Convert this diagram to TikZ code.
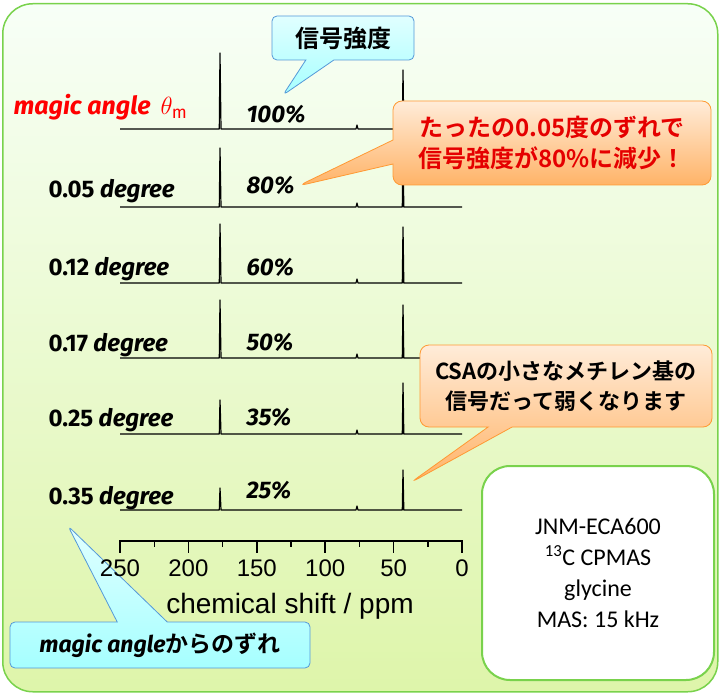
\documentclass[tikz,border=0pt]{standalone}
\usepackage{fontspec}
\setmainfont{Fira Sans}
\newfontfamily\jp{Noto Sans CJK JP Bold}
\newfontfamily\lab{Fira Sans Bold Italic}
\newfontfamily\labb{Fira Sans Bold}
\newfontfamily\info{Carlito}
\newfontfamily\arial{Liberation Sans}
\usetikzlibrary{shapes.callouts}
\tikzset{
  bluecall/.style={rectangle callout,callout pointer width=28pt,rounded corners=5pt,draw=cyan!60!blue!70,line width=0.8pt,top color=cyan!12,bottom color=cyan!35,font=\jp\fontsize{24}{28}\selectfont,inner sep=0pt},
  orcall/.style={rectangle callout,callout pointer width=24pt,rounded corners=9pt,draw=orange!80,line width=0.8pt,top color=orange!15,bottom color=orange!60,text=red!90!black,font=\jp\fontsize{24}{31}\selectfont,align=center,inner sep=0pt},
  deg/.style={anchor=base west,font=\lab\fontsize{24}{24}\selectfont},
  pct/.style={anchor=base west,font=\lab\fontsize{24}{24}\selectfont},
  spec/.style={line width=1.2pt,line join=round}
}
\newcommand\specrow[3]{%
 \draw[spec] (120,#1) -- (219.3,#1) -- (220,#2) -- (221,#1) -- (356,#1) -- (357,#1-4) -- (358,#1) -- (402.3,#1) -- (403,#3) -- (403.8,#1) -- (462,#1);}
\newcommand\dg[1]{{\labb #1} degree}
\begin{document}
\begin{tikzpicture}[x=1pt,y=-1pt]
\useasboundingbox (0,0) rectangle (720,695);
\node[draw=green!50!olive!70,line width=1.5pt,rounded corners=30pt,top color=green!3!white,bottom color={rgb,255:red,222;green,245;blue,170},minimum width=715pt,minimum height=688pt,anchor=north west] (bg) at (2,3) {};
\node[bluecall,callout pointer width=50pt,minimum width=300pt,minimum height=46pt,callout absolute pointer={(68,526)},font=\jp\fontsize{23}{24}\selectfont] (c4) at (160,645) {\lab magic angle\jp からのずれ};
\specrow{129}{53}{70}
\specrow{207}{148}{150}
\specrow{283}{224}{227}
\specrow{358}{300}{305}
\specrow{434}{400}{383}
\specrow{510}{488}{470}
\node[anchor=base west,text=red,font=\lab\fontsize{25}{25}\selectfont] (ma) at (10,115) {magic angle \,$\theta_{\mathrm{m}}$};
\node[deg] (d1) at (45,198) {\dg{0.05}};
\node[deg] (d2) at (45,275) {\dg{0.12}};
\node[deg] (d3) at (45,351) {\dg{0.17}};
\node[deg] (d4) at (45,426) {\dg{0.25}};
\node[deg] (d5) at (45,504) {\dg{0.35}};
\node[pct] (p0) at (243,123) {100\%};
\node[pct] (p1) at (243,194) {80\%};
\node[pct] (p2) at (243,275) {60\%};
\node[pct] (p3) at (243,350) {50\%};
\node[pct] (p4) at (243,425) {35\%};
\node[pct] (p5) at (243,498) {25\%};
% axis
\draw[line width=2pt] (120,541) -- (462,541);
\foreach \v in {0,50,...,250} \draw[line width=1.6pt] ({462-\v*1.368},540) -- ({462-\v*1.368},553);
\foreach \v in {25,75,...,225} \draw[line width=1.4pt] ({462-\v*1.368},540) -- ({462-\v*1.368},547);
\foreach \v in {0,50,...,250} \node[font=\arial\fontsize{24}{24}\selectfont] (n\v) at ({462-\v*1.368},568) {\v};
\node[font=\arial\fontsize{28}{28}\selectfont] (xl) at (290,606) {chemical shift / ppm};
% callouts
\node[bluecall,minimum width=142pt,minimum height=44pt,callout absolute pointer={(283,95)}] (c1) at (343,38) {信号強度};
\node[orcall,minimum width=318pt,minimum height=84pt,callout absolute pointer={(298,186)}] (c2) at (552,143) {たったの0.05度のずれで\\信号強度が80\%に減少！};
\node[orcall,text=black,font=\jp\fontsize{22}{30}\selectfont,minimum width=292pt,minimum height=82pt,callout absolute pointer={(410,483)}] (c3) at (566,386) {CSAの小さなメチレン基の\\信号だって弱くなります};
\node[draw=green!50!olive!70,line width=2pt,fill=white,rounded corners=28pt,minimum width=232pt,minimum height=214pt,align=center,font=\info\fontsize{24}{31}\selectfont] (inf) at (598,573) {JNM-ECA600\\\textsuperscript{13}C CPMAS\\glycine\\MAS: 15 kHz};
\end{tikzpicture}
\end{document}
